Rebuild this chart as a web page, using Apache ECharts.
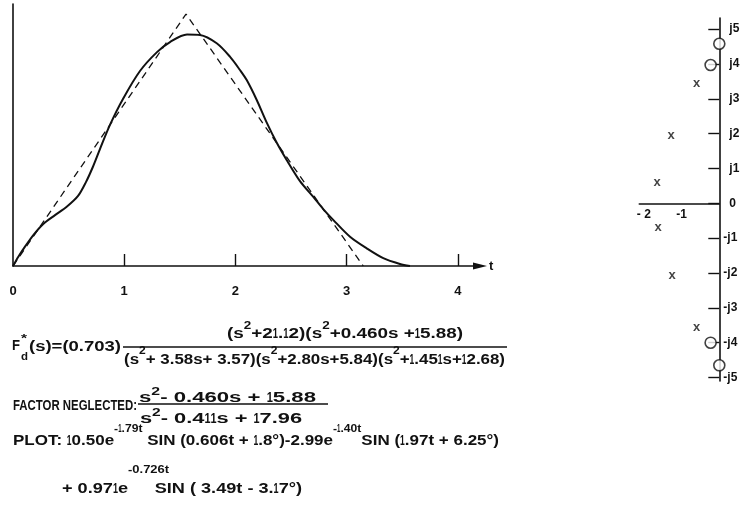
<!DOCTYPE html>
<html><head><meta charset="utf-8">
<script src="https://cdn.jsdelivr.net/npm/echarts@6/dist/echarts.min.js"></script>
<style>html,body{margin:0;padding:0;background:#fff}#c{width:745px;height:524px}</style>
</head><body><div id="c"></div>
<script>
// ---- data ----
const tTickLabels = [0, 1, 2, 3, 4];
const tTickMarks = [1, 2, 3, 4];
const responseT = [0, 0.048, 0.108, 0.183, 0.272, 0.378, 0.483, 0.585, 0.656, 0.719, 0.782, 0.872, 0.989, 1.142, 1.295, 1.412, 1.565, 1.682, 1.832, 1.951, 2.041, 2.102, 2.192, 2.281, 2.371, 2.461, 2.581, 2.701, 2.790, 2.880, 3.031, 3.181, 3.330, 3.480, 3.570];
const responseV = [0, 0.037, 0.077, 0.123, 0.167, 0.202, 0.235, 0.278, 0.333, 0.394, 0.464, 0.560, 0.663, 0.774, 0.849, 0.889, 0.919, 0.917, 0.884, 0.831, 0.778, 0.738, 0.659, 0.570, 0.490, 0.421, 0.337, 0.274, 0.226, 0.183, 0.116, 0.070, 0.031, 0.008, 0];
const triangleT = [0, 1.556, 3.15];
const triangleV = [0, 1.0, 0];
const imagTicks = [-5, -4, -3, -2, -1, 0, 1, 2, 3, 4, 5];
const realTicks = [-2, -1];
const poleRe = [-1.65, -1.62, -1.28, -1.25, -0.60, -0.60];
const poleIm = [0.61, -0.69, 1.95, -2.07, 3.45, -3.56];
const zeroRe = [0, -0.23, -0.23, 0];
const zeroIm = [4.58, 3.97, -4.0, -4.65];

// ---- formula text (content), laid out as flowing lines ----
const FONT = '"Liberation Sans", Arial, sans-serif';
const MAIN = 14, SUP = 10, NARROW = 0.5;
const lines = [
  { x0: 227, x1: 463, y: 334, ys: 326, parts: [['(s'], ['2', 1], ['+21.12)(s'], ['2', 1], ['+0.460s +15.88)']] },
  { x0: 124, x1: 505, y: 360, ys: 351, parts: [['(s'], ['2', 1], ['+ 3.58s+ 3.57)(s'], ['2', 1], ['+2.80s+5.84)(s'], ['2', 1], ['+1.451s+12.68)']] },
  { x0: 29, x1: 121, y: 347, parts: [['(s)=(0.703)']] },
  { x0: 13, x1: 137, y: 406, size: 14, parts: [['FACTOR NEGLECTED:']] },
  { x0: 139, x1: 316, y: 398, ys: 392, parts: [['s'], ['2', 1], ['- 0.460s + 15.88']] },
  { x0: 140, x1: 302, y: 419, ys: 413, parts: [['s'], ['2', 1], ['- 0.411s + 17.96']] },
  { x0: 13, x1: 499, y: 441, ys: 429, parts: [['PLOT: 10.50e'], ['-1.79t', 1], [' SIN (0.606t + 1.8°)-2.99e'], ['-1.40t', 1], ['SIN (1.97t + 6.25°)']] },
  { x0: 62, x1: 302, y: 489, ys: 470, parts: [['+ 0.971e'], ['-0.726t', 1, 0.65], ['SIN ( 3.49t - 3.17°)']] }
];
const singles = [['F', 12, 20, 346, 14], ['*', 21, 27, 339, 11], ['d', 21, 28, 357, 10]];
const fracLines = [[123, 347, 507], [138, 404, 328]];

const cv = document.createElement('canvas').getContext('2d');
function measure(t, s) { cv.font = 'bold ' + s + 'px ' + FONT; return cv.measureText(t).width; }
function textNode(t, x, y, s, k) {
  return { type: 'text', x: x, y: y, scaleX: k, silent: true,
    style: { text: t, fontSize: s, fontWeight: 'bold', fontFamily: FONT, fill: '#111',
      align: 'left', verticalAlign: 'middle', textAlign: 'left', textVerticalAlign: 'middle' } };
}
const graphics = [];
lines.forEach(L => {
  const items = []; let cur = 0;
  L.parts.forEach(([text, sup, back]) => {
    const s = sup ? SUP : (L.size || MAIN);
    const start = cur;
    text.split(/(1)/).filter(x => x.length).forEach(tok => {
      const nar = tok === '1';
      const w = measure(tok, s) * (nar ? NARROW : 1);
      items.push({ tok, s, x: cur, w, sup, nar });
      cur += w;
    });
    if (back) cur = start + (cur - start) * back;
  });
  const total = Math.max.apply(null, items.map(i => i.x + i.w));
  const k = (L.x1 - L.x0) / total;
  items.forEach(it => graphics.push(textNode(it.tok, L.x0 + it.x * k, it.sup ? L.ys : L.y, it.s, k * (it.nar ? NARROW : 1))));
});
singles.forEach(([t, x0, x1, y, s]) => graphics.push(textNode(t, x0, y, s, (x1 - x0) / measure(t, s))));
fracLines.forEach(l => graphics.push({ type: 'line', silent: true, shape: { x1: l[0], y1: l[1], x2: l[2], y2: l[1] },
  style: { stroke: '#111', lineWidth: 1.4 } }));

const ink = '#111';
const lblFont = { color: ink, fontSize: 13, fontWeight: 'bold', fontFamily: FONT };

const chart = echarts.init(document.getElementById('c'));
chart.setOption({
  animation: false,
  backgroundColor: '#fff',
  grid: [
    { left: 13, right: 745 - 480, top: 4, bottom: 524 - 266 },
    { left: 639.3, right: 745 - 719.3, top: 18, bottom: 524 - 381 }
  ],
  xAxis: [
    { gridIndex: 0, type: 'value', min: 0, max: 4.2,
      axisLine: { show: true, onZero: false, lineStyle: { color: ink, width: 1.6 }, symbol: ['none', 'triangle'], symbolSize: [7, 14] },
      axisTick: { show: true, inside: true, length: 12, customValues: tTickMarks, lineStyle: { color: ink, width: 1.4 } },
      axisLabel: Object.assign({ customValues: tTickLabels, margin: 19 }, lblFont),
      splitLine: { show: false },
      name: 't', nameLocation: 'end', nameGap: 9, nameTextStyle: lblFont },
    { gridIndex: 1, type: 'value', min: -2.12, max: 0, position: 'bottom', offset: -(381 - 203.3),
      axisLine: { show: true, onZero: false, lineStyle: { color: ink, width: 1.6 } },
      axisTick: { show: false },
      axisLabel: Object.assign({ customValues: realTicks, margin: 5, formatter: v => (v === -2 ? '- 2' : '-1') }, lblFont, { fontSize: 12 }),
      splitLine: { show: false } }
  ],
  yAxis: [
    { gridIndex: 0, type: 'value', min: 0, max: 1.04,
      axisLine: { show: true, onZero: false, lineStyle: { color: ink, width: 1.6 } },
      axisTick: { show: false }, axisLabel: { show: false }, splitLine: { show: false } },
    { gridIndex: 1, type: 'value', min: -5.1, max: 5.32, position: 'right',
      axisLine: { show: true, onZero: false, lineStyle: { color: ink, width: 1.6 } },
      axisTick: { show: true, inside: true, length: 11, customValues: imagTicks, lineStyle: { color: ink, width: 1.4 } },
      axisLabel: Object.assign({ customValues: imagTicks, margin: 4,
        formatter: v => (v === 0 ? '{p|0}' : v > 0 ? '{p|j' + v + '}' : '-j' + (-v)),
        rich: { p: { padding: [0, 0, 0, 6], fontSize: 12, fontWeight: 'bold', fontFamily: FONT, color: ink } } }, lblFont, { fontSize: 12 }),
      splitLine: { show: false } }
  ],
  series: [
    { type: 'line', xAxisIndex: 0, yAxisIndex: 0, data: responseT.map((t, i) => [t, responseV[i]]),
      smooth: 0.3, symbol: 'none', lineStyle: { color: ink, width: 2 }, z: 3 },
    { type: 'line', xAxisIndex: 0, yAxisIndex: 0, data: triangleT.map((t, i) => [t, triangleV[i]]),
      symbol: 'none', lineStyle: { color: ink, width: 1.3, type: [7, 5] }, z: 2 },
    { type: 'scatter', xAxisIndex: 1, yAxisIndex: 1, data: zeroRe.map((r, i) => [r, zeroIm[i]]),
      symbol: 'circle', symbolSize: 11, itemStyle: { color: '#fff', borderColor: ink, borderWidth: 1.6 }, z: 5 },
    { type: 'scatter', xAxisIndex: 1, yAxisIndex: 1, data: poleRe.map((r, i) => [r, poleIm[i]]),
      symbol: 'circle', symbolSize: 1, itemStyle: { color: 'rgba(0,0,0,0)' },
      label: { show: true, position: 'inside', formatter: 'x', fontSize: 13, fontWeight: 'bold', fontFamily: FONT, color: ink }, z: 5 }
  ],
  graphic: graphics
});
</script>
</body></html>
